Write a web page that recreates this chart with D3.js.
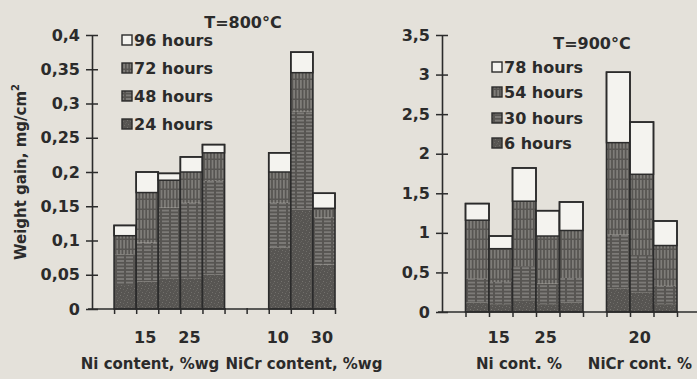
<!DOCTYPE html>
<html>
<head>
<meta charset="utf-8">
<script src="https://cdn.jsdelivr.net/npm/d3@7"></script>
<style>
  html, body { margin: 0; padding: 0; background: #e4e1da; }
  svg { display: block; }
  text { font-family: "DejaVu Sans", "Liberation Sans", sans-serif; font-weight: bold; fill: #2b2b2b; }
</style>
</head>
<body>
<svg id="chart" width="697" height="379"></svg>
<script>
// Categories (alloy content) and the tick labels printed under them
const niCats = ["10", "15", "20", "25", "30"];
const niCrCats = ["10", "20", "30"];
const niTicks800 = ["15", "25"];
const niCrTicks800 = ["10", "30"];
const niTicks900 = ["15", "25"];
const niCrTicks900 = ["20"];

// Exposure times (legend order is bottom to top of each bar)
const times800 = ["24 hours", "48 hours", "72 hours", "96 hours"];
const times900 = ["6 hours", "30 hours", "54 hours", "78 hours"];

// Y axis ticks
const yTicks800 = [0, 0.05, 0.1, 0.15, 0.2, 0.25, 0.3, 0.35, 0.4];
const yTicks900 = [0, 0.5, 1, 1.5, 2, 2.5, 3, 3.5];

// Cumulative weight gain, mg/cm2, T = 800 °C
const ni800h24 = [0.035, 0.04, 0.045, 0.045, 0.05];
const ni800h48 = [0.08, 0.097, 0.148, 0.155, 0.187];
const ni800h72 = [0.107, 0.17, 0.188, 0.2, 0.228];
const ni800h96 = [0.122, 0.2, 0.198, 0.222, 0.24];
const niCr800h24 = [0.09, 0.145, 0.065];
const niCr800h48 = [0.155, 0.288, 0.134];
const niCr800h72 = [0.2, 0.345, 0.147];
const niCr800h96 = [0.228, 0.375, 0.169];

// Cumulative weight gain, mg/cm2, T = 900 °C
const ni900h6 = [0.12, 0.1, 0.15, 0.1, 0.12];
const ni900h30 = [0.42, 0.38, 0.58, 0.36, 0.43];
const ni900h54 = [1.16, 0.8, 1.4, 0.96, 1.03];
const ni900h78 = [1.37, 0.96, 1.82, 1.28, 1.39];
const niCr900h6 = [0.3, 0.25, 0.1];
const niCr900h30 = [0.98, 0.72, 0.33];
const niCr900h54 = [2.14, 1.74, 0.84];
const niCr900h78 = [3.03, 2.4, 1.15];

const svg = d3.select("#chart");
const ink = "#2b2b2b";
const fmt = d3.formatLocale({ decimal: ",", thousands: ".", grouping: [3], currency: ["", ""] }).format("~g");

// Fill textures: stipple, horizontal hatch, vertical hatch, blank
const defs = svg.append("defs");
const stip = defs.append("pattern").attr("id", "stip").attr("patternUnits", "userSpaceOnUse")
  .attr("width", 7).attr("height", 7);
stip.append("rect").attr("width", 7).attr("height", 7).attr("fill", "#575552");
[[1, 1, "#767470"], [4, 2, "#6a6864"], [2, 5, "#716f6b"], [6, 4, "#63615d"], [0, 3, "#666460"], [5, 6, "#6e6c68"]]
  .forEach(([x, y, c]) => stip.append("rect").attr("x", x).attr("y", y).attr("width", 1).attr("height", 1).attr("fill", c));

const hor = defs.append("pattern").attr("id", "hor").attr("patternUnits", "userSpaceOnUse")
  .attr("width", 9).attr("height", 3.6);
hor.append("rect").attr("width", 9).attr("height", 3.6).attr("fill", "#575552");
hor.append("rect").attr("x", 0).attr("y", 1.3).attr("width", 7).attr("height", 1).attr("fill", "#9c9a96");

const ver = defs.append("pattern").attr("id", "ver").attr("patternUnits", "userSpaceOnUse")
  .attr("width", 3.4).attr("height", 10);
ver.append("rect").attr("width", 3.4).attr("height", 10).attr("fill", "#575552");
ver.append("rect").attr("x", 1.2).attr("y", 0).attr("width", 1).attr("height", 8.5).attr("fill", "#9a9894");

const fills = ["url(#stip)", "url(#hor)", "url(#ver)", "#f4f3ef"];

function panel(cfg) {
  const g = svg.append("g");
  const x = d3.scaleLinear().domain([0, cfg.slots]).range(cfg.xRange);
  const y = d3.scaleLinear().domain(cfg.yDomain).range(cfg.yRange);
  const w = x(1) - x(0);

  // bars: each group occupies consecutive slots
  cfg.groups.forEach(grp => {
    grp.cats.forEach((c, i) => {
      const slot = grp.start + i;
      const vals = grp.series.map(s => s[i]);
      const bg = g.append("g");
      let prev = 0;
      vals.forEach((v, k) => {
        bg.append("rect")
          .attr("x", x(slot)).attr("width", w)
          .attr("y", y(v)).attr("height", y(prev) - y(v))
          .attr("fill", fills[k])
          .attr("stroke", k === 3 ? ink : "none")
          .attr("stroke-width", 1.5);
        prev = v;
      });
      bg.append("rect")
        .attr("x", x(slot)).attr("width", w)
        .attr("y", y(vals[3])).attr("height", y(0) - y(vals[3]))
        .attr("fill", "none").attr("stroke", ink).attr("stroke-width", 1.6);
    });
    // category labels
    grp.cats.forEach((c, i) => {
      if (grp.ticks.includes(c)) {
        g.append("text").attr("x", x(grp.start + i + 0.5) - 2).attr("y", 343)
          .attr("text-anchor", "middle").attr("font-size", 16).text(c);
      }
    });
    g.append("text").attr("x", grp.titleX).attr("y", 369)
      .attr("text-anchor", "middle").attr("font-size", 15).text(grp.title);
  });

  // x axis: baseline with a tick at every slot boundary
  const xa = g.append("g").attr("transform", `translate(0,${y(0)})`)
    .call(d3.axisBottom(x).tickValues(d3.range(1, cfg.slots + 1)).tickFormat("").tickSize(5).tickSizeOuter(0));
  xa.select(".domain").remove();
  xa.selectAll(".tick line").attr("stroke", ink).attr("stroke-width", 1.5).attr("y1", -1);
  g.append("line").attr("x1", x(0) - 4).attr("x2", cfg.xAxisEnd)
    .attr("y1", y(0)).attr("y2", y(0)).attr("stroke", ink).attr("stroke-width", 1.6);

  // y axis with ticks crossing the spine
  const ya = g.append("g").attr("transform", `translate(${x(0)},0)`)
    .call(d3.axisLeft(y).tickValues(cfg.yTicks).tickFormat(fmt).tickSize(6).tickSizeOuter(0).tickPadding(6));
  ya.select(".domain").attr("stroke", ink).attr("stroke-width", 1.6);
  ya.selectAll(".tick line").attr("stroke", ink).attr("stroke-width", 1.5).attr("x2", -6).attr("x1", 6);
  ya.selectAll(".tick text").attr("font-size", 16).attr("font-family", "DejaVu Sans, sans-serif")
    .attr("font-weight", "bold").attr("fill", ink).attr("x", -12);

  // title
  g.append("text").attr("x", cfg.titleX).attr("y", cfg.titleY)
    .attr("text-anchor", "middle").attr("font-size", 16).text(cfg.title);

  // legend, top entry is the longest exposure
  const order = [3, 2, 1, 0];
  order.forEach((k, r) => {
    const cy = cfg.legendY[r];
    g.append("rect").attr("x", cfg.legendX).attr("y", cy - 5).attr("width", 10).attr("height", 10)
      .attr("fill", fills[k]).attr("stroke", ink).attr("stroke-width", 1.4);
    g.append("text").attr("x", cfg.legendX + 12).attr("y", cy + 6)
      .attr("font-size", 16).text(cfg.times[k]);
  });
}

panel({
  slots: 11, xRange: [92, 335], xAxisEnd: 336,
  yDomain: [0, 0.4], yRange: [309, 35], yTicks: yTicks800,
  title: "T=800°C", titleX: 243, titleY: 28,
  legendX: 122, legendY: [40, 68, 96, 124], times: times800,
  groups: [
    { cats: niCats, start: 1, series: [ni800h24, ni800h48, ni800h72, ni800h96], ticks: niTicks800,
      title: "Ni content, %wg", titleX: 150 },
    { cats: niCrCats, start: 8, series: [niCr800h24, niCr800h48, niCr800h72, niCr800h96], ticks: niCrTicks800,
      title: "NiCr content, %wg", titleX: 304 }
  ]
});

panel({
  slots: 10, xRange: [442, 677], xAxisEnd: 697,
  yDomain: [0, 3.5], yRange: [312, 35], yTicks: yTicks900,
  title: "T=900°C", titleX: 592, titleY: 49,
  legendX: 492, legendY: [67, 92, 118, 143], times: times900,
  groups: [
    { cats: niCats, start: 1, series: [ni900h6, ni900h30, ni900h54, ni900h78], ticks: niTicks900,
      title: "Ni cont. %", titleX: 519 },
    { cats: niCrCats, start: 7, series: [niCr900h6, niCr900h30, niCr900h54, niCr900h78], ticks: niCrTicks900,
      title: "NiCr cont. %", titleX: 640 }
  ]
});

// shared y axis title
const yt = svg.append("text").attr("transform", "translate(26,172) rotate(-90)")
  .attr("text-anchor", "middle").attr("font-size", 15);
yt.append("tspan").text("Weight gain, mg/cm");
yt.append("tspan").attr("font-size", 10).attr("dy", -7).text("2");
</script>
</body>
</html>
